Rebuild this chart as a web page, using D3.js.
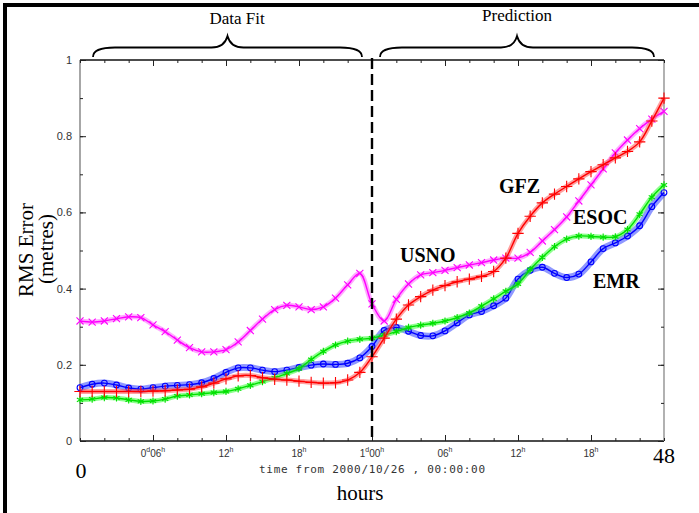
<!DOCTYPE html>
<html><head><meta charset="utf-8">
<script src="https://cdn.jsdelivr.net/npm/d3@7"></script>
<style>body{margin:0;background:#fff}svg{display:block}</style>
</head><body>
<svg id="c" width="699" height="513"></svg>
<script>
// ---- data (hours 0..48, hourly) ----
const hours = d3.range(0, 49);
const usno = [0.315,0.312,0.315,0.321,0.326,0.324,0.305,0.287,0.265,0.245,0.234,0.234,0.240,0.260,0.290,0.320,0.345,0.356,0.352,0.345,0.352,0.375,0.410,0.440,0.360,0.315,0.372,0.412,0.436,0.442,0.448,0.455,0.462,0.468,0.475,0.480,0.480,0.495,0.525,0.555,0.588,0.630,0.672,0.714,0.756,0.790,0.820,0.845,0.865];
const gfz  = [0.130,0.130,0.130,0.130,0.130,0.130,0.131,0.132,0.134,0.136,0.142,0.152,0.163,0.171,0.172,0.166,0.162,0.160,0.157,0.154,0.152,0.153,0.160,0.180,0.221,0.270,0.320,0.357,0.379,0.396,0.408,0.418,0.425,0.432,0.445,0.480,0.545,0.590,0.625,0.648,0.668,0.688,0.707,0.725,0.743,0.760,0.785,0.840,0.900];
const esoc = [0.108,0.110,0.114,0.113,0.108,0.104,0.105,0.110,0.118,0.121,0.124,0.127,0.130,0.137,0.146,0.156,0.166,0.177,0.190,0.214,0.235,0.252,0.262,0.267,0.270,0.278,0.287,0.298,0.304,0.309,0.315,0.324,0.336,0.354,0.373,0.393,0.412,0.450,0.482,0.510,0.530,0.538,0.537,0.535,0.536,0.555,0.595,0.640,0.672];
const emr  = [0.140,0.149,0.152,0.147,0.139,0.136,0.140,0.144,0.146,0.148,0.153,0.164,0.180,0.192,0.192,0.186,0.182,0.186,0.193,0.199,0.202,0.201,0.204,0.218,0.248,0.290,0.298,0.288,0.277,0.276,0.289,0.310,0.331,0.340,0.355,0.375,0.425,0.448,0.456,0.440,0.429,0.438,0.470,0.505,0.520,0.538,0.565,0.615,0.652];
const seriesNames = ["EMR","ESOC","USNO","GFZ"];
const yTicks = [0,0.2,0.4,0.6,0.8,1];
const yTickLabels = ["0","0.2","0.4","0.6","0.8","1"];
const xTicks = [6,12,18,24,30,36,42];
const xTickLabels = [["0","d","06","h"],["12","h"],["18","h"],["1","d","00","h"],["06","h"],["12","h"],["18","h"]];

const svg = d3.select("#c");
const x = d3.scaleLinear().domain([0,48]).range([80,664]);
const y = d3.scaleLinear().domain([0,1]).range([441,60]);

// outer slide frame (only top/left visible)
svg.append("rect").attr("x",5).attr("y",5).attr("width",900).attr("height",700)
  .attr("fill","none").attr("stroke","#000").attr("stroke-width",4);

// plot box
const g = svg.append("g");
g.append("line").attr("x1",x(0)).attr("x2",x(48)).attr("y1",y(0)).attr("y2",y(0)).attr("stroke","#111").attr("stroke-width",1.3);
g.append("line").attr("x1",x(0)).attr("x2",x(48)).attr("y1",y(1)).attr("y2",y(1)).attr("stroke","#111").attr("stroke-width",1.3);
g.append("line").attr("x1",x(0)).attr("x2",x(0)).attr("y1",y(0)).attr("y2",y(1)).attr("stroke","#777").attr("stroke-width",1.3);
g.append("line").attr("x1",x(48)).attr("x2",x(48)).attr("y1",y(0)).attr("y2",y(1)).attr("stroke","#888").attr("stroke-width",1.3);

// axes (ticks inward)
const yMinor = d3.range(0,1.0001,0.1);
const xMinor = d3.range(0,48.001,2);
function clean(sel){sel.select(".domain").remove();sel.selectAll("line").attr("stroke","#222");}
g.append("g").attr("transform",`translate(${x(0)},0)`).call(d3.axisRight(y).tickValues(yMinor).tickSize(3).tickFormat("")).call(clean);
g.append("g").attr("transform",`translate(${x(48)},0)`).call(d3.axisLeft(y).tickValues(yMinor).tickSize(3).tickFormat("")).call(clean);
g.append("g").attr("transform",`translate(0,${y(0)})`).call(d3.axisTop(x).tickValues(xMinor).tickSize(3).tickFormat("")).call(clean);
g.append("g").attr("transform",`translate(0,${y(1)})`).call(d3.axisBottom(x).tickValues(xMinor).tickSize(3).tickFormat("")).call(clean);
// major ticks
g.append("g").attr("transform",`translate(${x(0)},0)`).call(d3.axisRight(y).tickValues(yTicks).tickSize(6).tickFormat("")).call(clean);
g.append("g").attr("transform",`translate(${x(48)},0)`).call(d3.axisLeft(y).tickValues(yTicks).tickSize(6).tickFormat("")).call(clean);
g.append("g").attr("transform",`translate(0,${y(0)})`).call(d3.axisTop(x).tickValues(xTicks).tickSize(6).tickFormat("")).call(clean);
g.append("g").attr("transform",`translate(0,${y(1)})`).call(d3.axisBottom(x).tickValues(xTicks).tickSize(6).tickFormat("")).call(clean);

// y tick labels
g.selectAll(".yl").data(yTicks).enter().append("text")
  .attr("x",72).attr("y",d=>y(d)+4).attr("text-anchor","end")
  .attr("font-family","Liberation Sans, Arial, sans-serif").attr("font-size",11).attr("fill","#333")
  .text((d,i)=>yTickLabels[i]);

// x tick labels with superscripts
xTicks.forEach((t,i)=>{
  const parts = xTickLabels[i];
  const tx = g.append("text").attr("x",x(t)).attr("y",457).attr("text-anchor","middle")
    .attr("font-family","Liberation Sans, Arial, sans-serif").attr("font-size",10).attr("fill","#333");
  parts.forEach((p,j)=>{
    const isSup = (p==="d"||p==="h");
    const ts = tx.append("tspan").text(p);
    if(isSup){ ts.attr("font-size",7).attr("dy",-5); }
    else if(j>0){ ts.attr("dy",5); }
  });
});

// series
const colors = {GFZ:"#ff0000", USNO:"#ff00ff", ESOC:"#00e000", EMR:"#0000ff"};
const light = {GFZ:"#ff5555", USNO:"#ff66ff", ESOC:"#33ff33", EMR:"#3344ff"};
const symbols = {GFZ:d3.symbolPlus, USNO:d3.symbolTimes, ESOC:d3.symbolAsterisk, EMR:d3.symbolCircle};
const sizes = {GFZ:44, USNO:34, ESOC:36, EMR:26};
const dataBy = {USNO:usno, GFZ:gfz, ESOC:esoc, EMR:emr};
const line = d3.line().x((d,i)=>x(hours[i])).y(d=>y(d)).curve(d3.curveCatmullRom.alpha(0.5));

seriesNames.forEach(name=>{
  const vals = dataBy[name];
  const sg = g.append("g");
  sg.append("path").datum(vals).attr("d",line).attr("fill","none")
    .attr("stroke",light[name]).attr("stroke-width",name==="EMR"?7:5).attr("stroke-opacity",0.55);
  sg.append("path").datum(vals).attr("d",line).attr("fill","none")
    .attr("stroke",colors[name]).attr("stroke-width",1.4);
  sg.selectAll("path.m").data(vals).enter().append("path").attr("class","m")
    .attr("transform",(d,i)=>`translate(${x(hours[i])},${y(d)})`)
    .attr("d",d3.symbol().type(symbols[name]).size(sizes[name]))
    .attr("fill","none").attr("stroke",colors[name]).attr("stroke-width",1.1);
});

// dashed separator
g.append("line").attr("x1",x(24)).attr("x2",x(24)).attr("y1",58).attr("y2",y(0))
  .attr("stroke","#000").attr("stroke-width",2.4).attr("stroke-dasharray","11,5");

// braces
function brace(x1,x2,yb,yt){
  const xm=(x1+x2)/2, ym=(yb+yt)/2+1;
  return `M${x1},${yb} Q${x1},${ym} ${x1+22},${ym} L${xm-16},${ym} Q${xm-3},${ym} ${xm},${yt} Q${xm+3},${ym} ${xm+16},${ym} L${x2-22},${ym} Q${x2},${ym} ${x2},${yb}`;
}
svg.append("path").attr("d",brace(93,362,57,36)).attr("fill","none").attr("stroke","#000").attr("stroke-width",1.8);
svg.append("path").attr("d",brace(380,654,57,36)).attr("fill","none").attr("stroke","#000").attr("stroke-width",1.8);

const serif = "Liberation Serif, Times New Roman, serif";
svg.append("text").attr("x",237).attr("y",24).attr("text-anchor","middle").attr("font-family",serif).attr("font-size",17).text("Data Fit");
svg.append("text").attr("x",517).attr("y",21).attr("text-anchor","middle").attr("font-family",serif).attr("font-size",17).text("Prediction");

// axis titles
svg.append("text").attr("transform","translate(33,250) rotate(-90)").attr("text-anchor","middle").attr("font-family",serif).attr("font-size",21).text("RMS Error");
svg.append("text").attr("transform","translate(53,249) rotate(-90)").attr("text-anchor","middle").attr("font-family",serif).attr("font-size",21).text("(metres)");
svg.append("text").attr("x",81).attr("y",478).attr("text-anchor","middle").attr("font-family",serif).attr("font-size",22).text("0");
svg.append("text").attr("x",664).attr("y",463).attr("text-anchor","middle").attr("font-family",serif).attr("font-size",22).text("48");
svg.append("text").attr("x",360).attr("y",500).attr("text-anchor","middle").attr("font-family",serif).attr("font-size",21).text("hours");
svg.append("text").attr("x",372).attr("y",473).attr("text-anchor","middle").attr("font-family","DejaVu Sans Mono, monospace").attr("font-size",11)
  .attr("textLength",226).attr("lengthAdjust","spacing").attr("fill","#333").text("time from 2000/10/26 , 00:00:00");

// series labels
const labelPos = {USNO:[400,262], GFZ:[499,193], ESOC:[573,224], EMR:[593,288]};
Object.keys(labelPos).forEach(k=>{
  svg.append("text").attr("x",labelPos[k][0]).attr("y",labelPos[k][1]).attr("font-family",serif)
    .attr("font-weight","bold").attr("font-size",20).text(k);
});
</script>
</body></html>
